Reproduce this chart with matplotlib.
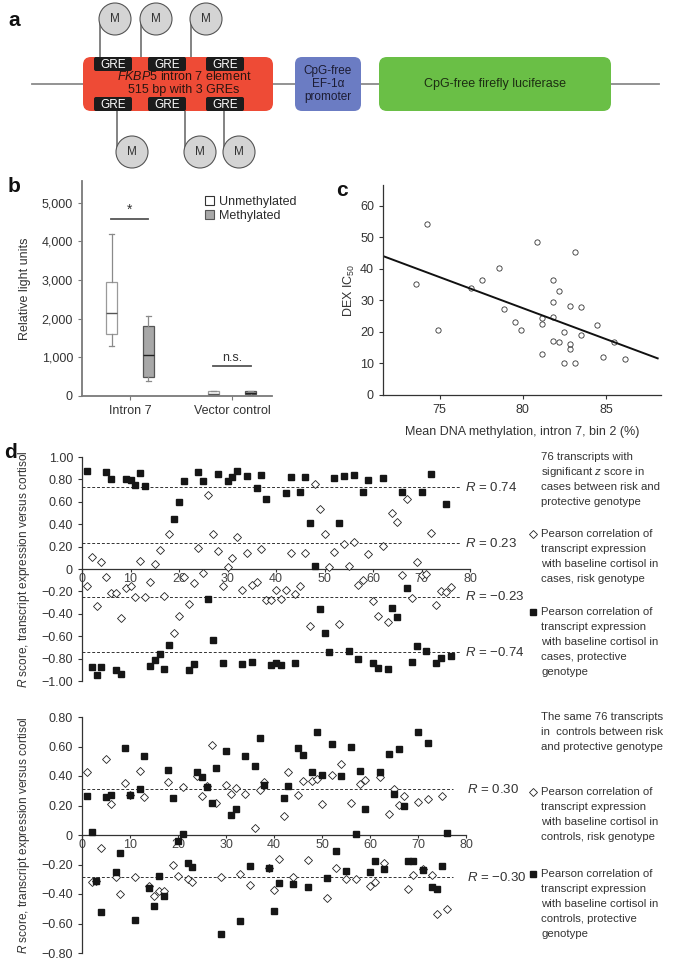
import numpy as np
import matplotlib
matplotlib.use('Agg')
import matplotlib.pyplot as plt
from matplotlib.patches import FancyBboxPatch, Circle, Patch

plt.rcParams['font.family'] = ['Liberation Sans', 'DejaVu Sans']
plt.rcParams['mathtext.fontset'] = 'custom'
plt.rcParams['mathtext.rm'] = 'Liberation Sans'
plt.rcParams['mathtext.it'] = 'Liberation Sans:italic'
plt.rcParams['text.color'] = '#2b2b2b'

# ---- data -------------------------------------------------------------
# b) luciferase box plot summaries (relative light units)
box_groups = ['Intron 7', 'Vector control']
box_labels = ['Unmethylated', 'Methylated']
box_whislo = [1300, 400, 10, 20]
box_q1 = [1600, 500, 30, 40]
box_med = [2150, 1050, 60, 80]
box_q3 = [2950, 1820, 120, 120]
box_whishi = [4200, 2070, 140, 140]

# c) methylation vs DEX IC50
methylation = [74.24, 73.56, 74.88, 76.9, 77.54, 78.54, 78.86, 79.52, 79.86, 80.84,
               81.18, 81.18, 81.18, 81.84, 82.16, 81.84, 81.84, 81.84, 82.16, 82.49,
               82.49, 82.82, 82.82, 82.82, 83.15, 83.15, 83.48, 83.48, 84.45, 84.81,
               85.46, 86.13]
ic50 = [54.1, 35.2, 20.6, 33.8, 36.4, 40.1, 27.1, 23.2, 20.7, 48.4,
        24.5, 22.5, 12.9, 36.3, 33.0, 29.3, 24.6, 17.0, 16.7, 19.8,
        10.0, 28.1, 16.1, 14.5, 45.4, 10.0, 27.9, 19.1, 22.2, 11.9,
        16.7, 11.3]
fit_x = [71.6, 88.1]
fit_y = [44.0, 11.6]

# d) R scores for 76 transcripts
cases_risk = [-0.155, 0.104, -0.334, 0.06, -0.072, -0.215, -0.215, -0.435, -0.167, -0.152,
              -0.253, 0.072, -0.247, -0.116, 0.048, 0.17, -0.241, 0.31, -0.575, -0.417,
              -0.072, -0.316, -0.122, 0.185, -0.033, 0.66, 0.313, 0.16, -0.152, 0.015,
              0.095, 0.283, -0.19, 0.146, -0.14, -0.119, 0.179, -0.274, -0.28, -0.19,
              -0.268, -0.185, 0.143, -0.227, -0.155, 0.143, -0.51, 0.763, 0.54, 0.313,
              0.018, 0.152, -0.495, 0.22, 0.03, 0.244, -0.14, -0.098, 0.137, -0.283,
              -0.417, 0.206, -0.47, 0.504, 0.423, -0.057, 0.626, -0.26, 0.066, -0.057,
              -0.045, 0.325, -0.319, -0.194, -0.206, -0.161]
cases_prot = [0.876, -0.873, -0.945, -0.873, 0.864, 0.808, -0.906, -0.939, 0.80, 0.796,
              0.754, 0.858, 0.739, -0.864, -0.814, -0.763, -0.891, -0.677, 0.45, 0.60,
              0.79, -0.90, -0.844, 0.864, 0.784, -0.27, -0.638, 0.847, -0.838, 0.79,
              0.82, 0.876, -0.85, 0.83, -0.826, 0.72, 0.837, 0.623, -0.861, -0.838,
              -0.86, 0.677, 0.82, -0.843, 0.69, 0.82, 0.41, 0.03, -0.36, -0.572,
              -0.745, 0.81, 0.41, 0.829, -0.73, 0.835, -0.80, 0.69, 0.796, -0.843,
              -0.88, 0.81, -0.897, -0.349, -0.426, 0.69, -0.167, -0.826, -0.686, 0.686,
              -0.736, 0.844, -0.838, -0.793, 0.584, -0.775]
ctrl_risk = [0.43, -0.322, -0.31, -0.09, 0.517, 0.211, -0.286, -0.40, 0.354, 0.27,
             -0.286, 0.437, 0.258, -0.347, -0.412, -0.378, -0.378, 0.36, -0.2, -0.276,
             0.324, -0.30, -0.322, 0.40, 0.265, 0.333, 0.607, 0.215, -0.286, 0.34,
             0.276, 0.32, -0.263, 0.276, -0.34, 0.045, 0.308, 0.36, -0.227, -0.376,
             -0.16, 0.129, 0.426, -0.288, 0.27, 0.365, -0.172, 0.365, 0.383, 0.211,
             -0.428, 0.406, -0.224, 0.478, -0.299, 0.215, -0.299, 0.344, 0.376, -0.349,
             -0.322, 0.394, -0.193, 0.145, 0.315, 0.206, 0.265, -0.369, -0.274, 0.227,
             -0.233, 0.247, -0.27, -0.537, 0.265, -0.503]
ctrl_prot = [0.267, 0.018, -0.31, -0.523, 0.26, 0.272, -0.249, -0.125, 0.589, 0.272,
             -0.576, 0.315, 0.537, -0.358, -0.48, -0.276, -0.415, 0.44, 0.25, -0.04,
             0.005, -0.188, -0.218, 0.43, 0.392, 0.324, 0.22, 0.455, -0.668, 0.569,
             0.134, 0.175, -0.582, 0.535, -0.21, 0.465, 0.655, 0.338, -0.222, -0.517,
             -0.324, 0.249, 0.331, -0.335, 0.589, 0.544, -0.351, 0.426, 0.70, 0.406,
             -0.292, 0.616, -0.109, 0.401, -0.242, 0.594, 0.009, 0.433, 0.175, -0.249,
             -0.179, 0.426, -0.229, 0.551, 0.281, 0.585, 0.197, -0.179, -0.179, 0.696,
             -0.236, 0.625, -0.351, -0.369, -0.213, 0.016]
transcript = np.arange(1, 77)
cases_r_lines = [0.73, 0.232, -0.25, -0.742]
cases_r_text = ['0.74', '0.23', '\u22120.23', '\u22120.74']
ctrl_r_lines = [0.31, -0.288]
ctrl_r_text = ['0.30', '\u22120.30']

# ---- figure -----------------------------------------------------------
W, H = 674, 961
fig = plt.figure(figsize=(W / 100, H / 100), dpi=100)


def ax_at(x0, y0, x1, y1):
    return fig.add_axes([x0 / W, 1 - y1 / H, (x1 - x0) / W, (y1 - y0) / H])


def letter(x, y, s):
    fig.text(x / W, 1 - y / H, s, fontsize=15, fontweight='bold',
             va='center', ha='left', color='#111')


# a) construct diagram (drawn in pixel units)
ax_a = ax_at(0, 0, W, 185)
ax_a.set_xlim(0, W)
ax_a.set_ylim(185, 0)
ax_a.axis('off')
ax_a.plot([32, 659], [84, 84], color='#8a8a8a', lw=1.3, zorder=1)
ax_a.add_patch(FancyBboxPatch((83, 57), 190, 54, boxstyle='round,pad=0,rounding_size=8',
                              fc='#ee4b36', ec='none', zorder=2))
ax_a.add_patch(FancyBboxPatch((295, 57), 66, 54, boxstyle='round,pad=0,rounding_size=7',
                              fc='#6b7cc3', ec='none', zorder=2))
ax_a.add_patch(FancyBboxPatch((379, 57), 232, 54, boxstyle='round,pad=0,rounding_size=8',
                              fc='#6abf46', ec='none', zorder=2))
for gx in [94, 148, 206]:
    for gy in [57, 97]:
        ax_a.add_patch(FancyBboxPatch((gx, gy), 38, 14, boxstyle='round,pad=0,rounding_size=2',
                                      fc='#1c1c1c', ec='none', zorder=3))
        ax_a.text(gx + 19, gy + 7.5, 'GRE', color='white', fontsize=8.5,
                  ha='center', va='center', zorder=4)
ax_a.text(184, 77, r'$\mathit{FKBP5}$ intron 7 element', fontsize=9, ha='center',
          va='center', color='#2a1510', zorder=4)
ax_a.text(184, 90, '515 bp with 3 GREs', fontsize=9, ha='center', va='center',
          color='#2a1510', zorder=4)
ax_a.text(328, 84, 'CpG-free\nEF-1\u03b1\npromoter', fontsize=8.5, ha='center',
          va='center', color='#1c1c33', linespacing=1.15, zorder=4)
ax_a.text(495, 84, 'CpG-free firefly luciferase', fontsize=9, ha='center',
          va='center', color='#1c2e12', zorder=4)
r = 16
for cx, cy, y_end in [(115, 19, 57), (156, 19, 57), (206, 19, 57),
                      (132, 152, 111), (200, 152, 111), (239, 152, 111)]:
    ax_a.plot([cx - r + 1, cx - r + 1], [cy, y_end], color='#7a7a7a', lw=1.3, zorder=1)
    ax_a.add_patch(Circle((cx, cy), r, fc='#d4d4d4', ec='#555555', lw=0.8, zorder=5))
    ax_a.text(cx, cy, 'M', fontsize=8.5, ha='center', va='center', color='#333', zorder=6)
letter(8, 20, 'a')

# b) box plot
ax_b = ax_at(82, 181, 272, 396)
stats = [dict(med=box_med[i], q1=box_q1[i], q3=box_q3[i], whislo=box_whislo[i],
              whishi=box_whishi[i], fliers=[]) for i in range(4)]
pos = [0.64, 1.36, 2.64, 3.36]
bp = ax_b.bxp(stats, positions=pos, widths=0.21, patch_artist=True, showfliers=False,
              capwidths=0.09, manage_ticks=False)
for i, box in enumerate(bp['boxes']):
    unmeth = i % 2 == 0
    box.set_facecolor('white' if unmeth else '#a8a8a8')
    box.set_edgecolor('#9a9a9a' if unmeth else '#555555')
    box.set_linewidth(0.9)
for i, ln in enumerate(bp['medians']):
    ln.set_color('#555555' if i % 2 == 0 else '#222222')
    ln.set_linewidth(1.0)
for ln in bp['whiskers'] + bp['caps']:
    ln.set_color('#8a8a8a')
    ln.set_linewidth(0.9)
ax_b.set_xlim(0.06, 3.78)
ax_b.set_ylim(0, 5560)
ax_b.set_xticks([1, 3])
ax_b.set_xticklabels(box_groups)
ax_b.set_yticks([0, 1000, 2000, 3000, 4000, 5000])
ax_b.set_yticklabels(['0', '1,000', '2,000', '3,000', '4,000', '5,000'])
for s in ['top', 'right']:
    ax_b.spines[s].set_visible(False)
for s in ['left', 'bottom']:
    ax_b.spines[s].set_color('#7a7a7a')
    ax_b.spines[s].set_linewidth(1.3)
ax_b.tick_params(direction='out', length=3, color='#7a7a7a', labelsize=9,
                 labelcolor='#333')
ax_b.set_ylabel('Relative light units', fontsize=9, color='#333')
ax_b.yaxis.set_label_coords(-0.27, 0.5)
ax_b.plot([0.62, 1.36], [4590, 4590], color='#555', lw=1.3)
ax_b.text(1.0, 4640, '*', ha='center', va='bottom', fontsize=10, color='#333')
ax_b.plot([2.62, 3.36], [780, 780], color='#555', lw=1.3)
ax_b.text(3.0, 840, 'n.s.', ha='center', va='bottom', fontsize=9, color='#333')
ax_b.legend(handles=[Patch(fc='white', ec='#333', lw=0.8, label=box_labels[0]),
                     Patch(fc='#a8a8a8', ec='#555', lw=0.8, label=box_labels[1])],
            loc='upper left', bbox_to_anchor=(0.62, 0.955), frameon=False, fontsize=9,
            handlelength=0.7, handleheight=0.7, handletextpad=0.4, labelspacing=0.15,
            borderaxespad=0)
letter(8, 187, 'b')

# c) scatter with regression
ax_c = ax_at(383, 185, 661, 395)
ax_c.plot(methylation, ic50, 'o', ms=3.8, mfc='none', mec='#333', mew=0.6)
ax_c.plot(fit_x, fit_y, color='#111', lw=1.4)
ax_c.set_xlim(71.6, 88.3)
ax_c.set_ylim(0, 66.5)
ax_c.set_xticks([75, 80, 85])
ax_c.set_yticks(range(0, 61, 10))
for s in ['top', 'right']:
    ax_c.spines[s].set_visible(False)
for s in ['left', 'bottom']:
    ax_c.spines[s].set_color('#333')
    ax_c.spines[s].set_linewidth(0.9)
ax_c.tick_params(direction='out', length=3, color='#333', labelsize=9, labelcolor='#333')
ax_c.set_ylabel('DEX IC$_{50}$', fontsize=9, color='#333')
ax_c.yaxis.set_label_coords(-0.095, 0.5)
ax_c.set_xlabel('Mean DNA methylation, intron 7, bin 2 (%)', fontsize=9, color='#333')
ax_c.xaxis.set_label_coords(0.5, -0.15)
letter(336, 191, 'c')


# d) R score panels
def fmt(v):
    if abs(v) < 1e-9:
        return '0'
    return f'{v:.2f}'.replace('-', '\u2212')


def r_panel(ax, risk, prot, ylim, yticks, lines, texts, xend, xlab):
    ax.plot(transcript, risk, 'D', ms=3.6, mfc='white', mec='#222', mew=0.6,
            zorder=3, clip_on=False)
    ax.plot(transcript, prot, 's', ms=4.3, color='#161616', zorder=3, clip_on=False)
    for ly, t in zip(lines, texts):
        ax.plot([0, xend], [ly, ly], color='#333', lw=0.7, ls=(0, (3, 2)), zorder=2)
        ax.text(xlab, ly, f'$R$ = {t}', fontsize=9.5, va='center', ha='left',
                color='#333', clip_on=False)
    ax.set_xlim(0, 80)
    ax.set_ylim(*ylim)
    ax.spines['bottom'].set_position(('data', 0))
    for s in ['top', 'right']:
        ax.spines[s].set_visible(False)
    for s in ['left', 'bottom']:
        ax.spines[s].set_color('#333')
        ax.spines[s].set_linewidth(0.9)
    ax.set_xticks(range(0, 81, 10))
    ax.set_yticks(yticks)
    ax.set_yticklabels([fmt(v) for v in yticks])
    ax.tick_params(axis='y', direction='out', length=3, color='#333', labelsize=9,
                   labelcolor='#333')
    ax.tick_params(axis='x', direction='out', length=2, color='#333', labelsize=9,
                   labelcolor='#444', pad=1)
    ax.set_ylabel('$R$ score, transcript expression versus cortisol', fontsize=8.6,
                  color='#333')


ax_d1 = ax_at(82, 457, 470, 681)
r_panel(ax_d1, cases_risk, cases_prot, (-1.0, 1.0), np.round(np.arange(-1.0, 1.01, 0.2), 2),
        cases_r_lines, cases_r_text, 78.2, 79.0)
ax_d1.yaxis.set_label_coords(-0.13, 0.5)

ax_d2 = ax_at(82, 717, 466, 953)
r_panel(ax_d2, ctrl_risk, ctrl_prot, (-0.8, 0.8), np.round(np.arange(-0.8, 0.81, 0.2), 2),
        ctrl_r_lines, ctrl_r_text, 77.3, 80.3)
ax_d2.yaxis.set_label_coords(-0.13, 0.5)
letter(4, 453, 'd')

# right-hand notes for panel d
tx = 541 / W
mx = 533 / W
notes = [
    (457, ['76 transcripts with', r'significant $z$ score in', 'cases between risk and',
           'protective genotype'], None),
    (534, ['Pearson correlation of', 'transcript expression', 'with baseline cortisol in',
           'cases, risk genotype'], 'D'),
    (612, ['Pearson correlation of', 'transcript expression', 'with baseline cortisol in',
           'cases, protective', 'genotype'], 's'),
    (717, ['The same 76 transcripts', 'in  controls between risk',
           'and protective genotype'], None),
    (792, ['Pearson correlation of', 'transcript expression', 'with baseline cortisol in',
           'controls, risk genotype'], 'D'),
    (874, ['Pearson correlation of', 'transcript expression', 'with baseline cortisol in',
           'controls, protective', 'genotype'], 's'),
]
for y0, lines_, mk in notes:
    for k, s in enumerate(lines_):
        fig.text(tx, 1 - (y0 + 15 * k) / H, s, fontsize=8.2, va='center', ha='left',
                 color='#333')
    if mk == 'D':
        fig.lines.append(plt.Line2D([mx], [1 - y0 / H], marker='D', ms=3.6, mfc='white',
                                    mec='#222', mew=0.6, transform=fig.transFigure))
    elif mk == 's':
        fig.lines.append(plt.Line2D([mx], [1 - y0 / H], marker='s', ms=4.3,
                                    color='#161616', transform=fig.transFigure))

fig.savefig('out.png', dpi=100)
